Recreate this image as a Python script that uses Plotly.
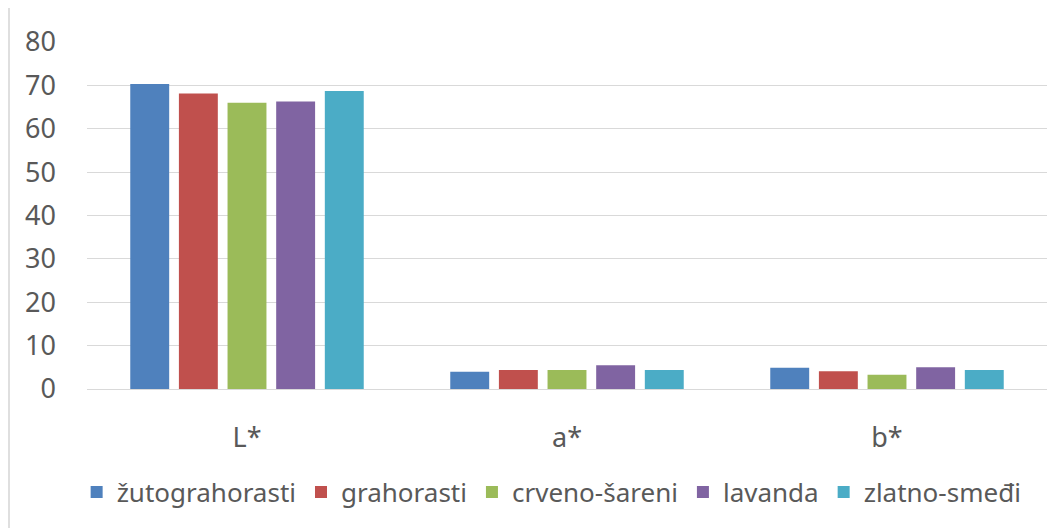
import plotly.graph_objects as go

categories = ["L*", "a*", "b*"]
series_names = ["žutograhorasti", "grahorasti", "crveno-šareni", "lavanda", "zlatno-smeđi"]
zutograhorasti = [70.3, 4.0, 4.9]
grahorasti = [68.1, 4.4, 4.1]
crveno_sareni = [66.0, 4.4, 3.3]
lavanda = [66.3, 5.5, 5.0]
zlatno_smedji = [68.7, 4.4, 4.4]
y_ticks = [0, 10, 20, 30, 40, 50, 60, 70, 80]

colors = ["#4F81BD", "#C0504D", "#9BBB59", "#8064A2", "#4BACC6"]
values = [zutograhorasti, grahorasti, crveno_sareni, lavanda, zlatno_smedji]

# page has an 8px body margin; figure sized to fit the remaining window
W, H = 1054, 520
ml, mt = 79, 34
pw, ph = 960, 347
mr, mb = W - ml - pw, H - mt - ph

fig = go.Figure()
for name, vals, c in zip(series_names, values, colors):
    fig.add_trace(go.Bar(x=categories, y=vals, name=name, marker=dict(color=c, line=dict(width=0))))

font = "Noto Sans, Open Sans, sans-serif"
fs = 27
lfs = 26
fig.update_layout(
    width=W, height=H,
    margin=dict(l=ml, r=mr, t=mt, b=mb, pad=0, autoexpand=False),
    barmode="group", bargap=0.24, bargroupgap=0.2,
    plot_bgcolor="white", paper_bgcolor="white",
    font=dict(family=font, size=fs, color="#595959"),
    showlegend=True,
    legend=dict(orientation="h", x=0.484, xanchor="center", y=-0.297, yanchor="middle",
                font=dict(size=lfs, color="#595959"), traceorder="normal",
                bgcolor="rgba(0,0,0,0)"),
    xaxis=dict(showgrid=False, showline=False, ticks="", ticklabelstandoff=30, automargin=False,
               tickfont=dict(size=fs, color="#595959")),
    yaxis=dict(range=[0, 80], tickvals=y_ticks, showgrid=True, gridcolor="#D9D9D9", gridwidth=1.3,
               zeroline=True, zerolinecolor="#D9D9D9", zerolinewidth=1.3, showline=False, automargin=False,
               ticks="", ticklabelstandoff=30, tickfont=dict(size=fs, color="#595959")),
)
# outer chart border (top and left edges visible in the reference)
bx0 = (1 - ml) / pw
bx1 = (W - 1 - ml) / pw
by_top = (ph + mb - 3) / ph
by_bot = (mb - H + 1) / ph
border = dict(color="#D4D4D4", width=1.5)
fig.add_shape(type="line", xref="paper", yref="paper", x0=bx0, x1=bx1, y0=by_top, y1=by_top, line=border, layer="above")
fig.add_shape(type="line", xref="paper", yref="paper", x0=bx0, x1=bx0, y0=by_top, y1=by_bot, line=border, layer="above")

fig.write_html("out.html")
